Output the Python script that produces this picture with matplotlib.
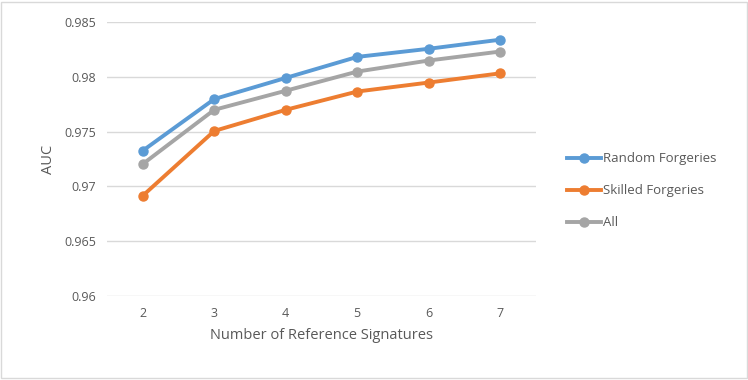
import matplotlib.pyplot as plt

# Data
n_refs = [2, 3, 4, 5, 6, 7]
random_forgeries = [0.97326, 0.97797, 0.97990, 0.98182, 0.98256, 0.98339]
skilled_forgeries = [0.96915, 0.97506, 0.97699, 0.97866, 0.97948, 0.98032]
all_sigs = [0.97204, 0.97699, 0.97873, 0.98048, 0.98149, 0.98231]
y_ticks = [0.96, 0.965, 0.97, 0.975, 0.98, 0.985]
y_tick_labels = ['0.96', '0.965', '0.97', '0.975', '0.98', '0.985']

plt.rcParams['font.family'] = ['Open Sans', 'DejaVu Sans']
text_color = '#595959'

fig = plt.figure(figsize=(7.48, 3.80), dpi=100)
ax = fig.add_axes([0.143, 0.221, 0.5736, 0.721])

ax.plot(n_refs, random_forgeries, color='#5B9BD5', lw=2.8, marker='o', ms=6.5, label='Random Forgeries')
ax.plot(n_refs, skilled_forgeries, color='#ED7D31', lw=2.8, marker='o', ms=6.5, label='Skilled Forgeries')
ax.plot(n_refs, all_sigs, color='#A5A5A5', lw=2.8, marker='o', ms=6.5, label='All')

ax.set_xlim(1.5, 7.5)
ax.set_ylim(0.96, 0.985)
ax.set_xticks(n_refs)
ax.set_yticks(y_ticks)
ax.set_yticklabels(y_tick_labels)
ax.grid(axis='y', color='#d9d9d9', lw=1)
ax.set_axisbelow(True)
for s in ax.spines.values():
    s.set_visible(False)
ax.tick_params(length=0, labelsize=9, colors=text_color, pad=8)

ax.set_xlabel('Number of Reference Signatures', fontsize=10.5, color=text_color, labelpad=6)
ax.set_ylabel('AUC', fontsize=10.5, color=text_color, labelpad=6)

leg = fig.legend(loc='center left', bbox_to_anchor=(0.742, 0.498), frameon=False,
                 fontsize=9.5, labelcolor=text_color, handlelength=2.6,
                 handletextpad=0.1, labelspacing=1.45)

# light border around the whole chart
fig.patches.append(plt.Rectangle((0.002, 0.004), 0.996, 0.992, transform=fig.transFigure,
                                 fill=False, edgecolor='#d9d9d9', lw=1))

plt.savefig('out.png', dpi=100)
